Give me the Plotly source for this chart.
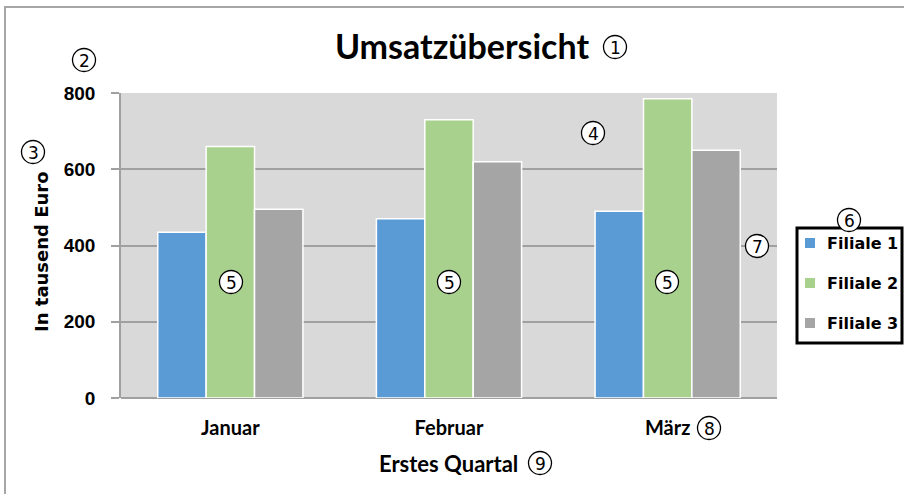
import plotly.graph_objects as go

months = ["Januar", "Februar", "März"]
series_names = ["Filiale 1", "Filiale 2", "Filiale 3"]
filiale1 = [435, 470, 490]
filiale2 = [660, 730, 785]
filiale3 = [495, 620, 650]
y_ticks = [0, 200, 400, 600, 800]

colors = ["#5b9bd5", "#a9d18e", "#a5a5a5"]

W, H = 904, 494
L, R, T, B = 121, 777, 93, 398  # plot area in px


def px(x):
    return (x - L) / (R - L)


def py(y):
    return (B - y) / (B - T)


fig = go.Figure()
for name, vals, c in zip(series_names, [filiale1, filiale2, filiale3], colors):
    fig.add_trace(go.Bar(x=months, y=vals, name=name, marker=dict(color=c, line=dict(color="white", width=1.5)),
                         showlegend=False))

shapes = []
annotations = []

# outer frame
shapes.append(dict(type="rect", xref="paper", yref="paper", x0=px(5), x1=px(1000), y0=py(7), y1=py(600),
                   line=dict(color="#a6a6a6", width=2), fillcolor="rgba(0,0,0,0)", layer="below"))

# manual legend
shapes.append(dict(type="rect", xref="paper", yref="paper", x0=px(797), x1=px(902), y0=py(228), y1=py(343),
                   line=dict(color="black", width=3), fillcolor="white"))
for i, (name, c) in enumerate(zip(series_names, colors)):
    cy = 243 + 40 * i
    shapes.append(dict(type="rect", xref="paper", yref="paper", x0=px(805), x1=px(815), y0=py(cy - 5), y1=py(cy + 5),
                       line=dict(width=0), fillcolor=c))
    annotations.append(dict(text=name, xref="paper", yref="paper", x=px(825), y=py(cy), xanchor="left",
                            yanchor="middle", showarrow=False,
                            font=dict(family="DejaVu Sans", size=16, color="black", weight="bold")))

# axis titles
annotations.append(dict(text="In tausend Euro", xref="paper", yref="paper", x=px(41), y=py(252), textangle=-90,
                        showarrow=False, xanchor="center", yanchor="middle",
                        font=dict(family="DejaVu Sans", size=18, color="black", weight="bold")))
annotations.append(dict(text="Erstes Quartal", xref="paper", yref="paper", x=px(448), y=py(463),
                        showarrow=False, xanchor="center", yanchor="middle",
                        font=dict(family="Lato", size=22, color="black", weight="bold")))

# circled numbers
markers = [("1", 615, 47), ("2", 84, 60), ("3", 33, 152), ("4", 593, 133),
           ("5", 231, 282), ("5", 449, 282), ("5", 667, 282),
           ("6", 849, 220), ("7", 757, 246), ("8", 709, 428), ("9", 540, 463)]
r = 11.5
for d, cx, cy in markers:
    shapes.append(dict(type="circle", xref="paper", yref="paper", x0=px(cx - r), x1=px(cx + r),
                       y0=py(cy + r), y1=py(cy - r), line=dict(color="black", width=1.3),
                       fillcolor="white", layer="above"))
    annotations.append(dict(text=d, xref="paper", yref="paper", x=px(cx), y=py(cy + 0.5), showarrow=False,
                            xanchor="center", yanchor="middle",
                            font=dict(family="DejaVu Sans", size=17, color="black")))

fig.update_layout(
    width=W, height=H,
    margin=dict(l=L, r=W - R, t=T, b=H - B, pad=0),
    paper_bgcolor="white",
    plot_bgcolor="#d9d9d9",
    barmode="group",
    bargap=0.336,
    bargroupgap=0,
    title=dict(text="Umsatzübersicht", x=462 / W, y=1 - 47 / H, xref="container", yref="container",
               xanchor="center", yanchor="middle",
               font=dict(family="Lato", size=34, color="black", weight="bold")),
    shapes=shapes,
    annotations=annotations,
    showlegend=False,
)

fig.update_xaxes(showgrid=False, showline=False, ticks="", ticklabelstandoff=16,
                 tickfont=dict(family="Lato", size=20, color="black", weight="bold"))
fig.update_yaxes(range=[0, 800], tickvals=y_ticks, showgrid=True, gridcolor="#a0a0a0", gridwidth=1.5,
                 showline=True, linecolor="#a0a0a0", linewidth=1.5, ticks="outside", ticklen=8,
                 tickcolor="#a0a0a0", tickwidth=1.5, ticklabelstandoff=12, zeroline=True,
                 zerolinecolor="#a0a0a0", zerolinewidth=1.5,
                 tickfont=dict(family="Liberation Sans", size=19, color="black", weight="bold"))

fig.write_html("out.html", config={"displayModeBar": False},
               post_script="document.body.style.margin='0';")
